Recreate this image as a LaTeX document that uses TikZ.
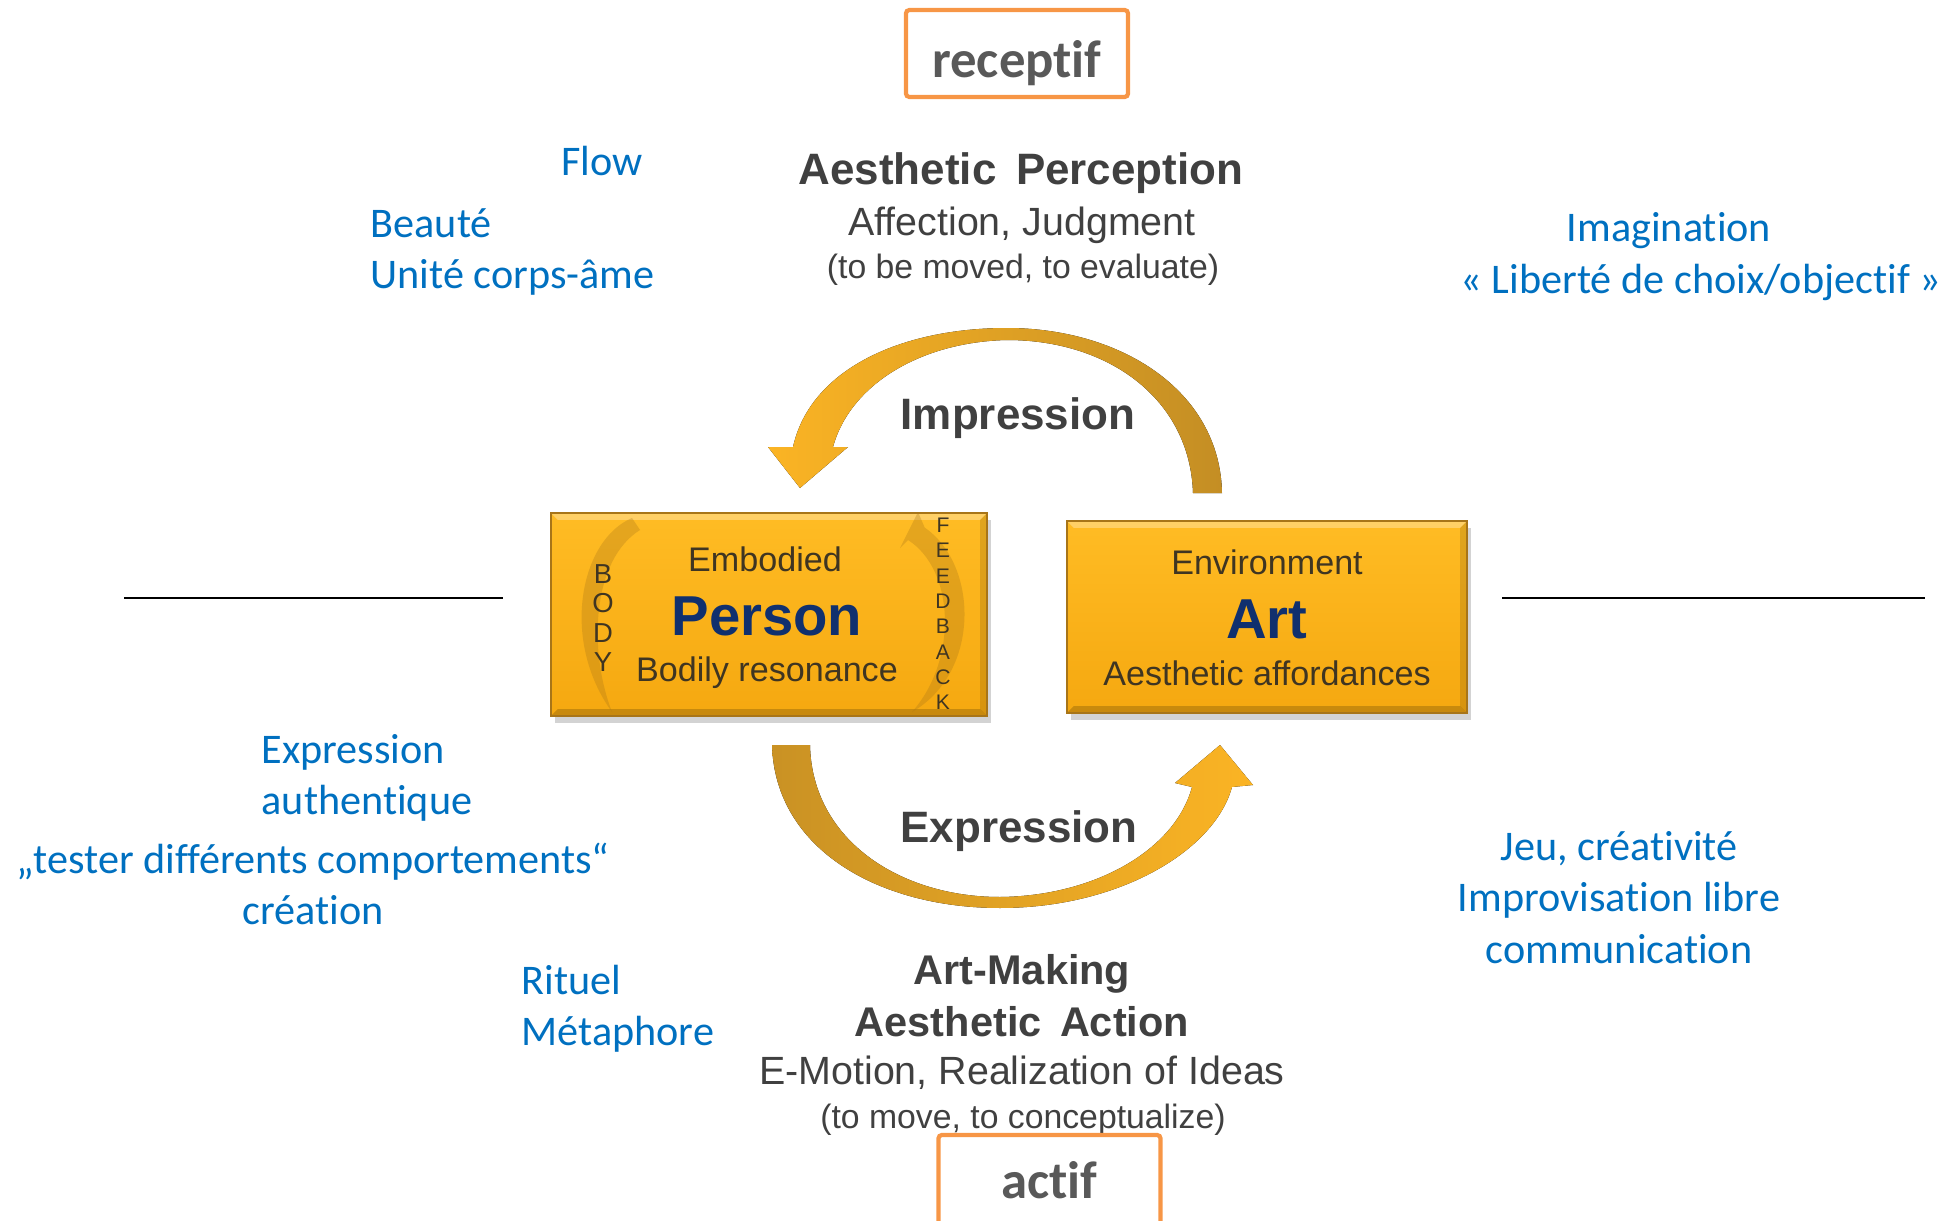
\documentclass[tikz,border=0pt]{standalone}
\usepackage{fontspec}
\setmainfont{Liberation Sans}
\newfontfamily\calfont{Carlito}[Ligatures=NoCommon]
\usetikzlibrary{shadows}

\definecolor{bluetxt}{HTML}{0070C0}
\definecolor{greytxt}{HTML}{404040}
\definecolor{frameorange}{HTML}{F79646}
\definecolor{labelgrey}{HTML}{595959}
\definecolor{boxtop}{HTML}{FFBC24}
\definecolor{boxbot}{HTML}{F5A810}
\definecolor{boxedge}{HTML}{A87518}
\definecolor{boxtxt}{HTML}{3F3522}
\definecolor{titleblue}{HTML}{10306E}
\definecolor{arrowlight}{HTML}{FBB424}
\definecolor{arrowdark}{HTML}{C48E24}

\tikzset{
  bluetext/.style={text=bluetxt, inner sep=0pt, font=\calfont\fontsize{12}{14.6}\selectfont},
  headtext/.style={text=greytxt, font=\bfseries\fontsize{12.5}{15}\selectfont},
  subtext/.style={text=greytxt, font=\fontsize{11.2}{13}\selectfont},
  notetext/.style={text=greytxt, font=\fontsize{9.6}{11}\selectfont},
  modebox/.style={draw=frameorange, line width=1.2pt, rounded corners=1pt, minimum width=2.22cm,
    inner ysep=0pt, text=labelgrey, font=\calfont\bfseries\fontsize{15}{18}\selectfont},
  goldbox/.style={top color=boxtop, bottom color=boxbot, draw=boxedge, line width=0.6pt,
    drop shadow={opacity=0.35, shadow xshift=0.04cm, shadow yshift=-0.07cm},
    path picture={
      \fill[white, opacity=0.3] (path picture bounding box.north west) -- (path picture bounding box.north east)
        -- ([shift={(-2pt,-2pt)}]path picture bounding box.north east) -- ([shift={(2pt,-2pt)}]path picture bounding box.north west) -- cycle;
      \fill[black, opacity=0.18] (path picture bounding box.south west) -- (path picture bounding box.south east)
        -- ([shift={(-2pt,2pt)}]path picture bounding box.south east) -- ([shift={(2pt,2pt)}]path picture bounding box.south west) -- cycle;
      \fill[black, opacity=0.12] (path picture bounding box.north east) -- (path picture bounding box.south east)
        -- ([shift={(-2pt,2pt)}]path picture bounding box.south east) -- ([shift={(-2pt,-2pt)}]path picture bounding box.north east) -- cycle;
    }},
  intext/.style={text=boxtxt, font=\fontsize{9.7}{11}\selectfont},
  keyword/.style={text=titleblue, font=\bfseries\fontsize{16}{18}\selectfont},
  bigarrow/.style={draw=none},
  bodyarc/.style={fill=boxedge, fill opacity=0.3, draw=none},
}

\begin{document}
\begin{tikzpicture}[x=0.01cm, y=-0.01cm]
  \useasboundingbox (0,0) rectangle (1947,1221);
  \clip (0,0) rectangle (1947,1221);

  % horizontal axis
  \draw[line width=0.6pt] (124,598) -- (503,598);
  \draw[line width=0.6pt] (1502,598) -- (1925,598);

  % Impression arrow (top)
  \fill[bigarrow, left color=arrowlight, right color=arrowdark]
    (1222,493) .. controls (1220,390) and (1120,328) .. (1007,328)
    .. controls (900,328) and (810,370) .. (793,447)
    -- (768,447) -- (800,488) -- (848,447) -- (833,447)
    .. controls (850,385) and (920,342) .. (1007,340)
    .. controls (1110,340) and (1190,400) .. (1193,493) -- cycle;

  % Expression arrow (bottom)
  \fill[bigarrow, left color=arrowdark!90!arrowlight, right color=arrowlight]
    (772,745) .. controls (775,850) and (880,908) .. (1000,908)
    .. controls (1120,908) and (1215,850) .. (1232,787)
    -- (1253,785) -- (1220,745) -- (1175,783) -- (1192,787)
    .. controls (1175,850) and (1095,896) .. (1000,897)
    .. controls (900,897) and (812,840) .. (810,745) -- cycle;

  % boxes
  \node[goldbox, minimum width=4.36cm, minimum height=2.03cm] (person) at (769,614.5) {};
  \node[goldbox, minimum width=4.00cm, minimum height=1.92cm] (art) at (1267,617) {};

  % body / feedback loops inside the person box
  \fill[bodyarc] (632,518) .. controls (580,540) and (560,640) .. (612,712)
    .. controls (588,650) and (592,560) .. (640,530) -- cycle;
  \fill[bodyarc] (915,522) .. controls (978,552) and (985,670) .. (912,712)
    .. controls (958,660) and (955,570) .. (908,540) -- (900,548) -- (918,512) -- (930,540) -- cycle;

  \node[intext] (emb) at (765,559) {Embodied};
  \node[keyword] (pers) at (767,616) {Person};
  \node[intext] (bodily) at (767,673) {Bodily resonance};
  \node[text=boxtxt, font=\fontsize{7.8}{8.4}\selectfont, align=center] (body) at (603,618) {B\\O\\D\\Y};
  \node[text=boxtxt, font=\fontsize{6}{7.2}\selectfont, align=center] (feedback) at (943,614) {F\\E\\E\\D\\B\\A\\C\\K};

  \node[intext] (env) at (1267,562) {Environment};
  \node[keyword] (artw) at (1267,619) {Art};
  \node[intext] (afford) at (1267,673) {Aesthetic affordances};

  % perception side
  \node[modebox, minimum height=0.87cm, text height=0.67cm, text depth=0.2cm] (receptif) at (1017,53.5) {receptif};
  \node[headtext] (percep) at (1021,173) {Aesthetic\ \,Perception};
  \node[subtext] (affect) at (1022,225) {Affection, Judgment};
  \node[notetext] (moved) at (1023,270) {(to be moved, to evaluate)};
  \node[headtext] (impr) at (1018,418) {Impression};

  % action side
  \node[headtext] (expr) at (1019,831) {Expression};
  \node[headtext, font=\bfseries\fontsize{11.8}{14}\selectfont] (making) at (1022,974) {Art-Making};
  \node[headtext, font=\bfseries\fontsize{11.8}{14}\selectfont] (action) at (1022,1022) {Aesthetic\ \,Action};
  \node[subtext] (emotion) at (1022,1073) {E-Motion, Realization of Ideas};
  \node[notetext] (tomove) at (1023,1120) {(to move, to conceptualize)};
  \node[modebox, minimum height=0.9cm] (actif) at (1049.5,1180) {actif};

  % french notes
  \node[bluetext] (flow) at (602,161) {Flow};
  \node[bluetext, anchor=west, align=left] (beaute) at (370,252) {Beauté\\Unité corps-âme};
  \node[bluetext] (imag) at (1669,231) {Imagination};
  \node[bluetext] (liberte) at (1701,282) {« Liberté de choix/objectif »};
  \node[bluetext, anchor=west, align=left] (exprauth) at (261,778) {Expression\\authentique};
  \node[bluetext, align=center] (tester) at (313,884) {„tester différents comportements“\\création};
  \node[bluetext, anchor=west, align=left] (rituel) at (521,1009) {Rituel\\Métaphore};
  \node[bluetext, align=center] (jeu) at (1619,897.5) {Jeu, créativité\\Improvisation libre\\communication};
\end{tikzpicture}
\end{document}
